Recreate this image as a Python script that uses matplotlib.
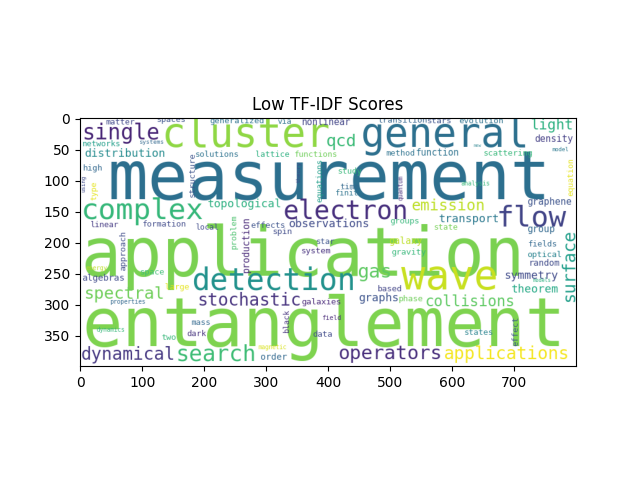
import numpy as np
import matplotlib
matplotlib.use("Agg")
import matplotlib.pyplot as plt

# word cloud canvas (pixels)
W, H = 800, 400

words = [
    "measurement", "application", "entanglement", "cluster", "general",
    "single", "complex", "electron", "flow", "detection",
    "wave", "gas", "spectral", "stochastic", "search",
    "dynamical", "operators", "applications", "collisions", "surface",
    "emission", "qcd", "light", "topological", "observations",
    "transport", "distribution", "theorem", "symmetry", "graphs",
    "galaxies", "matter", "spaces", "generalized", "via",
    "nonlinear", "transition", "stars", "evolution", "networks",
    "systems", "density", "solutions", "lattice", "functions",
    "method", "function", "scattering", "new", "model",
    "high", "study", "time", "finite", "analysis",
    "graphene", "groups", "state", "group", "fields",
    "optical", "random", "models", "linear", "formation",
    "local", "effects", "spin", "star", "system",
    "galaxy", "gravity", "space", "algebras", "large",
    "properties", "energy", "dynamics", "based", "phase",
    "mass", "dark", "two", "field", "data",
    "states", "magnetic", "order", "type", "using",
    "structure", "theory", "equations", "quantum", "equation",
    "approach", "problem", "production", "black", "effect",
]

# font size in canvas pixels
sizes = [
    108, 108, 108, 64.5, 64.5,
    34.7, 47, 42, 47, 48.7,
    65, 31, 27, 27.7, 36,
    28, 31, 28, 24, 27.6,
    24.6, 27.4, 23, 18, 18,
    18, 18, 18, 18, 18,
    13.4, 13, 13, 13.2, 12.8,
    14.6, 13.2, 13.4, 13.2, 12.9,
    9.5, 14.7, 13.1, 13, 12.9,
    13, 14.5, 13.2, 7, 9,
    13.4, 13, 13, 12.5, 9.8,
    14.9, 13, 13, 14.9, 13,
    13.4, 14, 8.2, 12.7, 13,
    12.5, 13.2, 13.4, 12.8, 13.4,
    14.9, 13.4, 13.2, 14.4, 13,
    9.7, 9.7, 9.7, 13.4, 13.2,
    13, 13, 13.4, 10.4, 13.4,
    13, 9.7, 14.3, 12.7, 9,
    13.4, 9.5, 12.9, 9.6, 12.7,
    13.4, 13, 15, 12.5, 13,
]

colors = [
    "#2c6f8e", "#7ad151", "#7ed34f", "#8fd744", "#2d708e",
    "#482576", "#35b779", "#472f7d", "#414487", "#21918c",
    "#c8e020", "#5ec962", "#6ece58", "#46327e", "#3dbc74",
    "#453781", "#472d7b", "#f4e61e", "#5ec962", "#1f9e89",
    "#bddf26", "#3aba76", "#2ab07f", "#29af7f", "#3e4a89",
    "#2a788e", "#238a8d", "#22a884", "#3e4989", "#3b528b",
    "#482878", "#3f4788", "#3b528b", "#2c728e", "#2c728e",
    "#414487", "#33638d", "#3b528b", "#2c728e", "#1f9e89",
    "#31688e", "#433e85", "#2c728e", "#29af7f", "#6ece58",
    "#2c728e", "#2c728e", "#35b779", "#26828e", "#2a788e",
    "#31688e", "#35b779", "#31688e", "#2c728e", "#35b779",
    "#3b528b", "#35b779", "#75d054", "#31688e", "#31688e",
    "#26828e", "#3e4a89", "#2ab07f", "#443983", "#3e4989",
    "#3e4989", "#3b528b", "#3e4a89", "#3b528b", "#46307e",
    "#bddf26", "#35b779", "#3dbc74", "#3e4a89", "#e5e419",
    "#31688e", "#bddf26", "#35b779", "#414487", "#6ece58",
    "#31688e", "#46337e", "#35b779", "#482878", "#3e4989",
    "#26828e", "#d8e219", "#31688e", "#e5e419", "#3e4a89",
    "#3b528b", "#3e4a89", "#1f9e89", "#472d7b", "#e5e419",
    "#3e4a89", "#4ac16d", "#482878", "#46327e", "#3b528b",
]

# layout: baseline start (x, y) on the canvas, vertical words read upward
layout = [
    (44, 131.7, 0), (2, 255, 0), (3, 368, 0), (132, 48.4, 0), (452, 48, 0),
    (3, 36, 0), (1, 164, 0), (328, 163, 0), (672, 175, 0), (180, 277, 0),
    (518, 277, 0), (447, 258, 0), (6, 292, 0), (189, 303, 0), (154, 392, 0),
    (1, 390, 0), (417, 389, 0), (586, 389, 0), (557, 304, 0), (797, 297.3, 1),
    (534, 150.5, 0), (396, 46.8, 0), (726, 20, 0), (206, 145, 0), (337, 177, 0),
    (579, 169, 0), (8, 64.5, 0), (696, 282, 0), (684, 260, 0), (450, 296, 0),
    (357, 301, 0), (41, 12.4, 0), (124, 8, 0), (209, 9.7, 0), (318, 11, 0),
    (358, 13.4, 0), (480, 9, 0), (560, 10, 0), (611, 10, 0), (4, 46.8, 0),
    (95, 43, 0), (733, 40, 0), (186, 64.5, 0), (283, 64.5, 0), (346, 64.5, 0),
    (493, 62, 0), (542, 62, 0), (651, 62, 0), (634, 48, 0), (761, 55, 0),
    (5, 86, 0), (416, 91, 0), (419, 115.6, 0), (412, 126, 0), (614, 110, 0),
    (721, 141, 0), (500, 171, 0), (571, 181, 0), (721, 185.5, 0), (723, 208, 0),
    (721, 225, 0), (723, 239, 0), (731, 265, 0), (17, 177, 0), (101, 176, 0),
    (186, 181, 0), (275, 178, 0), (311, 188, 0), (381, 204, 0), (357, 219, 0),
    (498, 204, 0), (502, 221, 0), (97, 253, 0), (3, 263.4, 0), (137, 277, 0),
    (48, 300, 0), (9, 246, 0), (26, 345, 0), (480, 279.6, 0), (514, 296, 0),
    (179, 334, 0), (172, 352, 0), (131, 357.5, 0), (390, 326, 0), (375, 353, 0),
    (620, 350.5, 0), (287, 372.6, 0), (291, 390, 0), (26, 134.4, 1), (8, 121, 1),
    (185, 129, 1), (355, 106, 1), (390, 137, 1), (520, 134, 1), (795, 127.4, 1),
    (73, 247, 1), (252, 212, 1), (273, 250, 1), (337, 345.7, 1), (706, 368, 1),
]

# render the cloud as an image, like a word cloud generator would
cloud_fig = plt.figure(figsize=(W / 100, H / 100), dpi=100)
cloud_fig.patch.set_facecolor("white")
cax = cloud_fig.add_axes([0, 0, 1, 1])
cax.set_xlim(0, W)
cax.set_ylim(H, 0)
cax.axis("off")
for word, size, color, (x, y, vert) in zip(words, sizes, colors, layout):
    cax.text(x, y, word, fontsize=size * 0.72, color=color,
             family="DejaVu Sans Mono", ha="left", va="baseline",
             rotation=90 if vert else 0, rotation_mode="anchor")
cloud_fig.canvas.draw()
img = np.asarray(cloud_fig.canvas.buffer_rgba())[:, :, :3].copy()
plt.close(cloud_fig)

fig, ax = plt.subplots(figsize=(6.4, 4.8), dpi=100)
ax.imshow(img)
ax.set_title("Low TF-IDF Scores")

fig.savefig("out.png")
